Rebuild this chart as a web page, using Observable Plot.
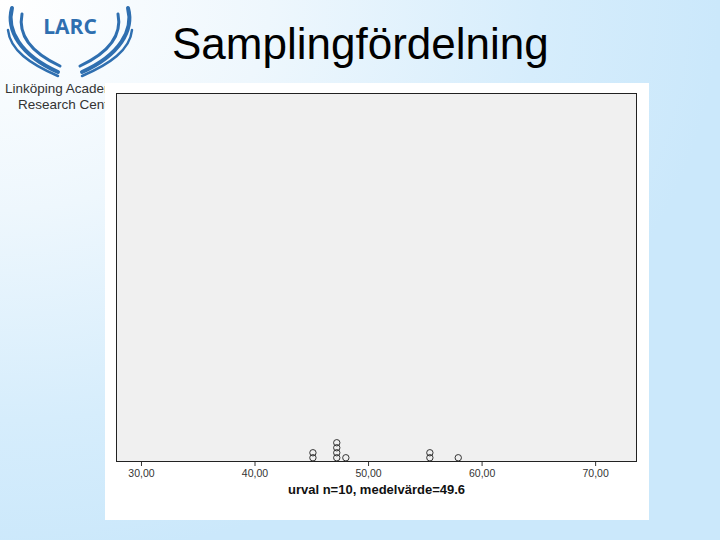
<!DOCTYPE html>
<html>
<head>
<meta charset="utf-8">
<script src="https://cdn.jsdelivr.net/npm/d3@7"></script>
<script src="https://cdn.jsdelivr.net/npm/@observablehq/plot@0.6"></script>
<style>
  html, body { margin: 0; padding: 0; }
  body {
    width: 720px; height: 540px; position: relative; overflow: hidden;
    background: radial-gradient(ellipse 900px 700px at 0px 0px, #ffffff 0%, #eef7fd 30%, #d6edfc 60%, #cbe8fb 80%, #cbe8fb 100%);
    font-family: "Liberation Sans", Arial, sans-serif;
  }
  #title { position: absolute; left: 172px; top: 21.5px; font-size: 44px; line-height: 1; color: #000; white-space: nowrap; }
  #logo { position: absolute; left: 0; top: 0; width: 140px; height: 120px; }
  #org1 { position: absolute; left: 5px; top: 81px; font-size: 13.5px; color: #333; white-space: nowrap; }
  #org2 { position: absolute; left: 18px; top: 97px; font-size: 13.5px; color: #333; white-space: nowrap; }
  #panel { position: absolute; left: 105px; top: 83px; width: 544px; height: 437px; background: #fff; z-index: 2; }
  #panel svg { display: block; }
</style>
</head>
<body>
<svg id="logo" viewBox="0 0 140 120">
  <g fill="none" stroke="#2f6fb0" stroke-linecap="round">
    <path d="M12 8 C 6 30, 20 55, 58 72" stroke-width="4"/>
    <path d="M22 14 C 18 34, 30 52, 60 66" stroke-width="3"/>
    <path d="M8 30 C 10 50, 30 64, 58 76" stroke-width="2.5"/>
    <path d="M128 8 C 134 30, 120 55, 82 72" stroke-width="4"/>
    <path d="M118 14 C 122 34, 110 52, 80 66" stroke-width="3"/>
    <path d="M132 30 C 130 50, 110 64, 82 76" stroke-width="2.5"/>
  </g>
  <text x="70" y="34" text-anchor="middle" font-family="'Open Sans', sans-serif" font-weight="bold" font-size="21" fill="#2f6fb0">LARC</text>
</svg>
<div id="org1">Linköping Academic</div>
<div id="org2">Research Centre</div>
<div id="title"></div>
<div id="panel"></div>
<script>
const title = "Samplingfördelning";
const values = [45.1, 47.2, 48.0, 55.4, 57.9];
const counts = [2, 4, 1, 2, 1];
const tickValues = [30, 40, 50, 60, 70];
const xLabel = ["urval n=10, medelvärde=49.6"];

document.getElementById("title").textContent = title;

const rows = [];
values.forEach((v, k) => { for (let i = 0; i < counts[k]; i++) rows.push({x: v, y: i}); });

const chart = Plot.plot({
  width: 544,
  height: 437,
  marginLeft: 11,
  marginRight: 13,
  marginTop: 10,
  marginBottom: 59,
  style: { background: "#fff", fontFamily: "'Liberation Sans', Arial, sans-serif", fontSize: "10.5px", color: "#333" },
  x: {
    domain: [27.8, 73.6],
    ticks: tickValues,
    tickFormat: d => d.toFixed(2).replace(".", ","),
    tickSize: 5,
    tickPadding: 3,
    label: null
  },
  y: { domain: [-0.75, 72.85], axis: null },
  marks: [
    Plot.frame({ fill: "#f0f0f0", stroke: "#222", strokeWidth: 1 }),
    Plot.dot(rows, { x: "x", y: "y", r: 3.2, stroke: "#333", strokeWidth: 1, fill: "none" }),
    Plot.text(xLabel, { text: d => d, frameAnchor: "bottom", dy: 32, fontWeight: "bold", fontSize: 13, fill: "#111" })
  ]
});
document.getElementById("panel").appendChild(chart);
</script>
</body>
</html>
